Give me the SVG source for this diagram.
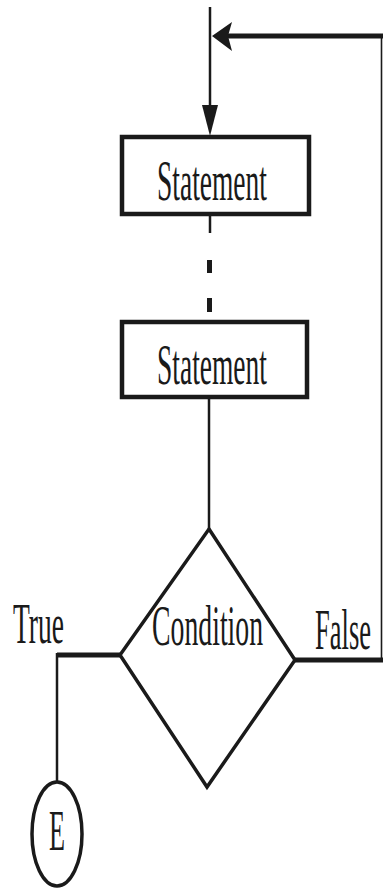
<svg xmlns="http://www.w3.org/2000/svg" width="383" height="892" viewBox="0 0 383 892">
  <style>
    .label { font-family: "Liberation Serif", "Times New Roman", serif; font-size: 56px; fill: #1a1a1a; }
    .box { fill: #fff; stroke: #1a1a1a; stroke-width: 4.5; }
    .shape { fill: #fff; stroke: #1a1a1a; stroke-width: 3.5; }
    .thin { fill: none; stroke: #1a1a1a; stroke-width: 2.5; }
    .hair { fill: none; stroke: #1a1a1a; stroke-width: 1.6; }
    .thick { fill: none; stroke: #1a1a1a; stroke-width: 5; }
    .head { fill: #1a1a1a; }
  </style>
  <rect width="383" height="892" fill="#fff"/>

  <!-- connectors -->
  <g id="connectors">
    <!-- entry line into the first statement -->
    <line class="thin" x1="210" y1="7" x2="210" y2="112"/>
    <polygon class="head" points="202,105 218,105 210,136"/>
    <!-- loop-back path from the False branch -->
    <line class="thick" x1="228" y1="36" x2="383" y2="36"/>
    <polygon class="head" points="212,36 232,22 228,36 232,51"/>
    <line class="hair" x1="381.5" y1="36" x2="381.5" y2="660"/>
    <line class="thick" x1="295" y1="660" x2="383" y2="660"/>
    <!-- between the statements (elided steps) -->
    <line class="thin" x1="210" y1="214" x2="210" y2="233"/>
    <line class="thick" x1="209.5" y1="260" x2="209.5" y2="273" stroke-width="3"/>
    <line class="thick" x1="209.5" y1="298" x2="209.5" y2="312" stroke-width="3"/>
    <!-- second statement to condition -->
    <line class="thin" x1="209" y1="397" x2="209" y2="530"/>
    <!-- True branch to end -->
    <line class="thick" x1="57" y1="655" x2="121" y2="655"/>
    <line class="thin" x1="57" y1="653" x2="57" y2="783"/>
  </g>

  <!-- labels use a condensed serif: horizontal scale of about one half -->
  <g id="statement1">
    <rect class="box" x="122" y="137" width="187" height="77"/>
    <text class="label" transform="translate(157 200) scale(0.491 1)">Statement</text>
  </g>

  <g id="statement2">
    <rect class="box" x="122" y="322" width="185" height="75"/>
    <text class="label" transform="translate(157 384) scale(0.491 1)">Statement</text>
  </g>

  <g id="condition">
    <polygon class="shape" points="209,529 295,660 207,787 120,655"/>
    <text class="label" transform="translate(152 645) scale(0.496 1)">Condition</text>
  </g>

  <g id="label-true">
    <text class="label" transform="translate(13 643) scale(0.492 1)">True</text>
  </g>

  <g id="label-false">
    <text class="label" transform="translate(315 649) scale(0.474 1)">False</text>
  </g>

  <g id="end">
    <ellipse class="shape" cx="57" cy="834" rx="25" ry="52"/>
    <text class="label" transform="translate(49 850) scale(0.468 1)">E</text>
  </g>
</svg>
